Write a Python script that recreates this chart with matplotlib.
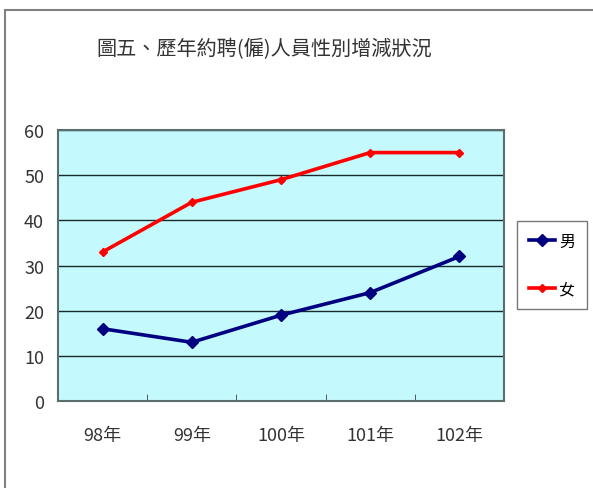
import matplotlib
matplotlib.use("Agg")
import matplotlib.pyplot as plt
from matplotlib.patches import Rectangle

plt.rcParams['font.family'] = ['Noto Sans CJK TC', 'DejaVu Sans']

categories = ['98年', '99年', '100年', '101年', '102年']
male = [16, 13, 19, 24, 32]
female = [33, 44, 49, 55, 55]
title = '圖五、歷年約聘(僱)人員性別增減狀況'

W, H = 593, 489
fig = plt.figure(figsize=(W / 100, H / 100), dpi=100)

# outer border
fig.patches.append(Rectangle((5 / W, -0.1), 1.2, 1 - 11 / H + 0.1, transform=fig.transFigure,
                             fill=False, edgecolor='#808080', linewidth=1.5))

ax = fig.add_axes([58 / W, 1 - 402 / H, (504 - 58) / W, (402 - 131) / H])
ax.set_facecolor('#c4fafd')
x = list(range(len(categories)))
ax.plot(x, male, color='#000080', linewidth=2.6, marker='D', markersize=6, label='男')
ax.plot(x, female, color='#ff0000', linewidth=2.6, marker='D', markersize=4, label='女')

ax.set_xlim(-0.5, len(categories) - 0.5)
ax.set_ylim(0, 60)
ax.set_yticks(range(0, 61, 10))
ax.yaxis.grid(True, color='#1a2a2a', linewidth=1)
ax.set_axisbelow(True)
ax.set_xticks(x)
ax.set_xticklabels(categories, fontsize=13, color='#333333')
ax.tick_params(axis='x', length=0, pad=18)
ax.set_xticks([i + 0.5 for i in range(len(categories) - 1)], minor=True)
ax.tick_params(axis='x', which='minor', direction='in', length=5, color='#404040')
ax.tick_params(axis='y', labelsize=13, labelcolor='#333333', length=0, pad=10)
for s in ax.spines.values():
    s.set_color('#5a6e6e')
    s.set_linewidth(1.5)

fig.text(264 / W, 1 - 50 / H, title, ha='center', va='center', fontsize=14.5, color='#333333')

leg = fig.legend(loc='upper left', bbox_to_anchor=(517 / W, 1 - 222 / H), frameon=True,
                 fontsize=11.5, handlelength=1.6, labelspacing=1.9, borderpad=0.75,
                 borderaxespad=0, fancybox=False, edgecolor='#555555', handletextpad=0.3)
leg.get_frame().set_linewidth(1)

fig.savefig('out.png', dpi=100)
